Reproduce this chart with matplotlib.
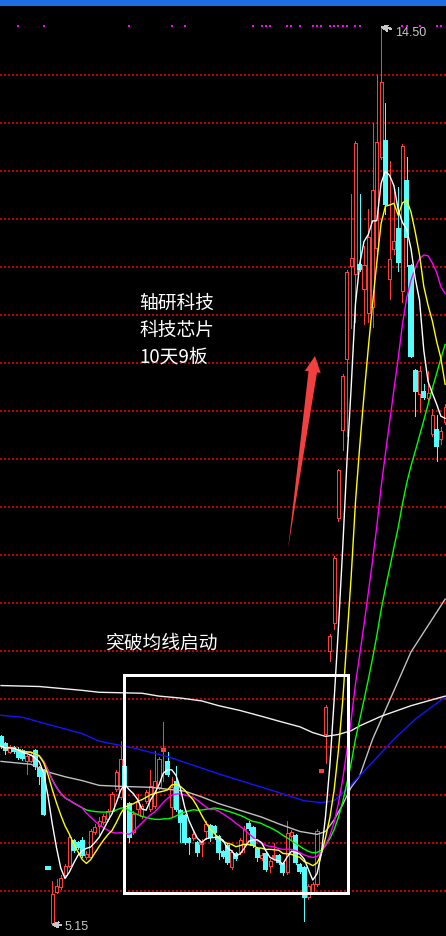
import numpy as np
import pandas as pd
import matplotlib
matplotlib.use("Agg")
import matplotlib.pyplot as plt
from matplotlib.patches import Rectangle, Polygon

plt.rcParams['font.family'] = ['Noto Sans CJK SC', 'DejaVu Sans']
# crisp, pixel-style drawing like a trading terminal
plt.rcParams['lines.antialiased'] = False
plt.rcParams['patch.antialiased'] = False

W, H = 446, 937

# daily bars: open / high / low / close
opens = [7.10, 7.03, 6.95, 6.99, 6.97, 6.96, 6.85, 6.85, 6.96, 6.78,
         6.75, 5.73, 5.17, 5.49, 5.54, 5.67, 5.76, 6.02, 6.00, 6.02,
         5.85, 5.85, 6.11, 6.18, 6.22, 6.25, 6.33, 6.56, 6.48, 6.79,
         6.41, 6.11, 6.35, 6.28, 6.44, 6.35, 6.39, 6.58, 6.96, 6.84,
         6.38, 6.64, 6.33, 6.28, 6.04, 6.05, 6.00, 5.99, 6.13, 6.18,
         6.17, 6.06, 5.91, 5.97, 5.75, 5.89, 5.91, 5.99, 6.20, 6.16,
         5.94, 5.84, 5.89, 5.76, 5.84, 5.86, 5.78, 5.70, 6.07, 6.07,
         5.77, 5.74, 5.44, 5.49, 5.57, 6.74, 7.14, 8.00, 8.29, 9.39,
         10.30, 11.04, 12.01, 11.93, 12.02, 11.77, 11.52, 11.58, 12.20, 13.15,
         13.31, 11.88, 12.19, 12.40, 11.75, 12.90, 12.01, 10.92, 10.68, 10.70,
         10.64, 10.26, 10.30, 10.21, 10.39]
highs = [7.13, 7.05, 7.02, 7.01, 7.00, 6.98, 6.92, 6.95, 6.98, 6.80,
         6.77, 5.73, 5.60, 5.62, 5.67, 5.78, 6.08, 6.04, 6.02, 6.06,
         5.92, 6.15, 6.20, 6.27, 6.30, 6.35, 6.53, 6.76, 7.06, 6.82,
         6.43, 6.33, 6.51, 6.41, 6.55, 6.76, 6.96, 6.90, 7.26, 6.95,
         6.69, 6.80, 6.35, 6.30, 6.06, 6.11, 6.02, 6.04, 6.23, 6.20,
         6.19, 6.08, 5.93, 5.99, 5.93, 5.91, 6.05, 6.18, 6.23, 6.18,
         5.96, 5.90, 5.91, 5.83, 6.00, 5.89, 5.80, 6.23, 6.14, 6.09,
         5.79, 5.76, 5.57, 5.59, 6.15, 6.74, 7.44, 8.18, 8.99, 9.90,
         10.89, 11.97, 12.76, 13.31, 12.76, 12.22, 12.60, 13.50, 14.00, 14.50,
         13.71, 13.10, 12.81, 12.83, 13.28, 13.15, 12.03, 10.94, 10.97, 10.78,
         10.92, 10.52, 10.46, 10.33, 10.57]
lows = [6.99, 6.93, 6.94, 6.94, 6.88, 6.86, 6.72, 6.84, 6.77, 6.61,
        6.29, 5.73, 5.15, 5.48, 5.52, 5.65, 5.75, 5.91, 5.94, 5.85,
        5.83, 5.84, 6.09, 6.08, 6.20, 6.23, 6.31, 6.54, 6.46, 6.57,
        6.01, 6.09, 6.30, 6.26, 6.42, 6.33, 6.36, 6.56, 6.65, 6.70,
        6.27, 6.33, 6.01, 5.99, 5.89, 6.03, 5.86, 5.86, 6.04, 6.02,
        6.04, 5.83, 5.84, 5.78, 5.73, 5.82, 5.89, 5.91, 6.14, 5.96,
        5.81, 5.82, 5.71, 5.70, 5.82, 5.78, 5.67, 5.68, 6.04, 5.78,
        5.69, 5.19, 5.42, 5.47, 5.55, 6.74, 6.83, 7.90, 8.23, 9.35,
        10.09, 10.24, 11.36, 11.43, 11.96, 11.41, 11.43, 11.38, 12.16, 13.13,
        12.55, 11.67, 12.14, 11.96, 11.64, 12.01, 11.06, 10.45, 10.49, 10.63,
        10.60, 10.24, 9.98, 10.16, 10.36]
closes = [7.01, 6.97, 7.00, 6.96, 6.90, 6.89, 6.91, 6.92, 6.80, 6.70,
          6.30, 5.73, 5.47, 5.55, 5.64, 5.76, 6.06, 5.93, 5.96, 5.88,
          5.89, 6.13, 6.17, 6.23, 6.28, 6.33, 6.51, 6.74, 6.88, 6.59,
          6.06, 6.30, 6.43, 6.39, 6.53, 6.59, 6.65, 6.88, 6.98, 6.72,
          6.58, 6.35, 6.22, 6.01, 6.01, 6.09, 5.91, 6.01, 6.20, 6.06,
          6.11, 5.91, 5.86, 5.80, 5.91, 5.84, 6.03, 6.15, 6.16, 5.98,
          5.85, 5.88, 5.73, 5.81, 5.86, 5.80, 5.70, 6.10, 6.11, 5.80,
          5.71, 5.44, 5.55, 5.57, 6.13, 6.74, 7.42, 8.16, 8.97, 9.89,
          10.86, 11.95, 12.09, 13.29, 11.98, 12.02, 12.31, 12.80, 13.30, 13.93,
          12.66, 12.08, 12.27, 12.05, 13.26, 12.31, 11.07, 10.71, 10.92, 10.65,
          10.69, 10.46, 10.14, 10.29, 10.54]

# long averages, read at a few bars (bar index, price)
ma60_idx = [0, 7, 11, 15, 19, 23, 28, 35, 43, 47, 51, 56, 61, 65, 70, 74, 76, 78, 80, 82, 84, 87, 96, 104]
ma60_val = [6.85, 6.82, 6.74, 6.69, 6.65, 6.60, 6.59, 6.58, 6.54, 6.48, 6.41, 6.34, 6.27, 6.20,
            6.12, 6.09, 6.12, 6.24, 6.40, 6.58, 6.70, 7.08, 7.99, 8.54]
ma120_idx = [0, 5, 9, 14, 19, 23, 31, 39, 47, 51, 56, 64, 71, 75, 78, 81, 84, 92, 97, 104]
ma120_val = [7.33, 7.31, 7.26, 7.20, 7.14, 7.06, 6.99, 6.90, 6.78, 6.72, 6.65, 6.54, 6.44, 6.42,
             6.44, 6.56, 6.70, 7.08, 7.29, 7.52]
ma250_idx = [0, 9, 19, 23, 33, 37, 42, 47, 51, 56, 61, 65, 70, 73, 76, 79, 82, 84, 89, 96, 104]
ma250_val = [7.64, 7.63, 7.59, 7.57, 7.56, 7.53, 7.51, 7.48, 7.43, 7.38, 7.32, 7.27, 7.21, 7.15,
             7.11, 7.13, 7.17, 7.22, 7.32, 7.43, 7.53]

# bars flagged by the signal row at the top
signal_idx = [4, 10, 30, 40, 43, 59, 61, 62, 63, 67, 68, 70, 73, 74, 75, 77, 78, 79, 80, 81,
              83, 84, 94, 95, 98, 102, 103]

UP = '#ff3c3c'
DOWN = '#54fcfc'
PX = 0.72  # one pixel in points
LW = 1.0   # average curves

fig = plt.figure(figsize=(W / 100, H / 100), dpi=100, facecolor='black')
ax = fig.add_axes([0, 0, 1, 1])
ax.set_facecolor('black')
ax.set_xlim(-0.234, 104.2)
ax.set_ylim(5.031, 14.792)
ax.axis('off')

# dotted price grid
for p in np.arange(5.5, 14.01, 0.5):
    ax.axhline(p, color='#bc0000', lw=1.4, ls=(0, (1, 1.05)), zorder=1)

# candles
bw = 0.72
tick = 1.5 / 96
for i, (o, h, l, c) in enumerate(zip(opens, highs, lows, closes)):
    prev = closes[i - 1] if i else o
    up = c > o or (c == o and c >= prev)
    col = UP if up else DOWN
    top, bot = max(o, c), min(o, c)
    if up and top - bot > 2 * tick:
        ax.vlines(i, top, h, color=col, lw=PX, zorder=2)
        ax.vlines(i, l, bot, color=col, lw=PX, zorder=2)
        ax.add_patch(Rectangle((i - bw / 2, bot), bw, top - bot, fc='black', ec=col, lw=PX, zorder=3))
    else:
        ax.vlines(i, l, h, color=col, lw=PX, zorder=2)
        ax.add_patch(Rectangle((i - bw / 2, bot), bw, max(top - bot, tick), fc=col, ec=col, lw=0.3, zorder=3))

# moving averages
close_s = pd.Series(closes)
idx = np.arange(len(closes))
for n, col in [(30, '#00ff00'), (20, '#ff00ff'), (10, '#ffff00'), (5, '#ffffff')]:
    ax.plot(idx, close_s.rolling(n, min_periods=1).mean(), color=col, lw=LW, zorder=5,
            antialiased=True)
ax.plot(ma60_idx, ma60_val, color='#c0c0c0', lw=LW, zorder=4, antialiased=True)
ax.plot(ma120_idx, ma120_val, color='#1414ff', lw=LW, zorder=4, antialiased=True)
ax.plot(ma250_idx, ma250_val, color='#f0f0f0', lw=LW, zorder=4, antialiased=True)

# signal row
ax.scatter(signal_idx, [1 - 26.7 / H] * len(signal_idx), marker='s', s=2.6, color='#ff00ff',
           lw=0, transform=ax.get_xaxis_transform(), zorder=6)

# high / low labels
hi_i = int(np.argmax(highs))
lo_i = int(np.argmin(lows))
lab_font = dict(color='#c8c8c8', fontsize=9, family=['Liberation Sans', 'DejaVu Sans'])
ax.annotate(f'{highs[hi_i]:.2f}', xy=(hi_i, highs[hi_i]), xytext=(395 / W, 1 - 33 / H),
            textcoords='figure fraction', va='center', ha='left', **lab_font,
            arrowprops=dict(arrowstyle='->', color='#c8c8c8', lw=0.8, shrinkA=1, shrinkB=0))
ax.annotate(f'{lows[lo_i]:.2f}', xy=(lo_i, lows[lo_i]), xytext=(65 / W, 1 - 927 / H),
            textcoords='figure fraction', va='center', ha='left', **lab_font,
            arrowprops=dict(arrowstyle='->', color='#c8c8c8', lw=0.8, shrinkA=1, shrinkB=0))


def fp(x, y):
    # top-left pixel position -> figure fraction
    return (x / W, 1 - y / H)


# blue title strip
fig.add_artist(Rectangle(fp(0, 7), 1, 7 / H, transform=fig.transFigure, color='#1b6fe3', lw=0))

# captions
for y, s in [(303.5, '轴研科技'), (330, '科技芯片'), (356.5, '10天9板')]:
    fig.text(*fp(139, y), s, color='white', fontsize=13.5, va='center', ha='left')
fig.text(*fp(106, 643), '突破均线启动', color='white', fontsize=13.5, va='center', ha='left')

# breakout box
x0, y0, x1, y1 = 123.5, 675.5, 348, 893.5
fig.add_artist(Rectangle(fp(x0, y1), (x1 - x0) / W, (y1 - y0) / H, transform=fig.transFigure,
                         fill=False, ec='white', lw=3 * PX))

# red arrow, tapered shaft
tail = np.array([288.0, 550.0])
tip = np.array([315.0, 357.0])
u = (tip - tail) / np.linalg.norm(tip - tail)
nrm = np.array([-u[1], u[0]])
base = tip - 16 * u
pts = [tail, base - 4.3 * nrm, base - 8 * nrm, tip, base + 8 * nrm, base + 4.3 * nrm]
fig.add_artist(Polygon([fp(*p) for p in pts], closed=True, transform=fig.transFigure,
                       fc='#f23f3f', ec='none', antialiased=True))

fig.savefig('out.png', dpi=100, facecolor='black')
